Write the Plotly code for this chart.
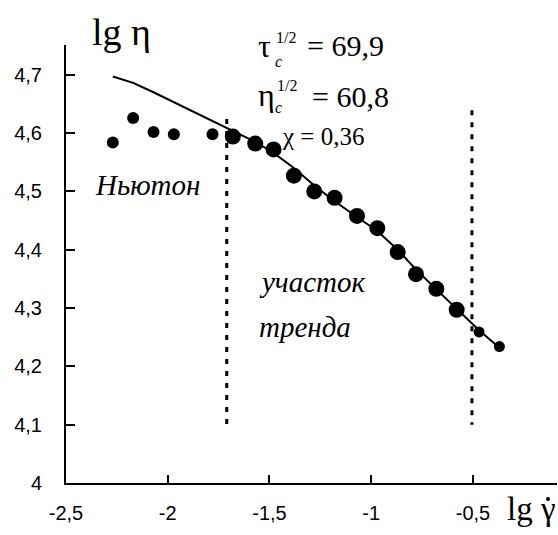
import plotly.graph_objects as go

# ---- data ----
x_newton = [-2.27, -2.17, -2.07, -1.97, -1.78]
y_newton = [4.584, 4.626, 4.602, 4.598, 4.598]

x_trend = [-1.68, -1.57, -1.48, -1.38, -1.28, -1.18, -1.07, -0.97, -0.87, -0.78, -0.68, -0.58]
y_trend = [4.594, 4.582, 4.572, 4.527, 4.500, 4.489, 4.458, 4.437, 4.396, 4.358, 4.333, 4.297]

x_tail = [-0.47, -0.37]
y_tail = [4.259, 4.234]

x_fit = [-2.27, -2.17, -2.07, -1.97, -1.78, -1.68, -1.57, -1.48, -1.38, -1.28,
         -1.18, -1.07, -0.97, -0.87, -0.78, -0.68, -0.58, -0.47, -0.37]
y_fit = [4.697, 4.686, 4.670, 4.653, 4.621, 4.603, 4.585, 4.566, 4.540, 4.510,
         4.483, 4.456, 4.432, 4.400, 4.366, 4.332, 4.298, 4.262, 4.232]

bound_x = [-1.71, -0.505]
bound_y0 = [4.1, 4.1]
bound_y1 = [4.624, 4.639]

x_ticks = [-2.5, -2.0, -1.5, -1.0, -0.5]
x_ticktext = ["-2,5", "-2", "-1,5", "-1", "-0,5"]
y_ticks = [4.0, 4.1, 4.2, 4.3, 4.4, 4.5, 4.6, 4.7]
y_ticktext = ["4", "4,1", "4,2", "4,3", "4,4", "4,5", "4,6", "4,7"]

# ---- layout geometry ----
W, H = 558, 535
ML, MR, MT, MB = 66, 1, 45, 52
XR = [-2.5, -0.087]
YR = [4.0, 4.751]


def px2paper_x(px):
    return (px - ML) / (W - ML - MR)


def px2paper_y(py):
    return (H - MB - py) / (H - MT - MB)


SERIF = "Liberation Serif"
SANS = "Liberation Sans"

fig = go.Figure()

for bx, b0, b1 in zip(bound_x, bound_y0, bound_y1):
    fig.add_trace(go.Scatter(x=[bx, bx], y=[b1, b0], mode="lines",
                             line=dict(color="black", width=3, dash="5px,7px"),
                             hoverinfo="skip", showlegend=False))

fig.add_trace(go.Scatter(x=x_fit, y=y_fit, mode="lines",
                         line=dict(color="black", width=2), showlegend=False))
fig.add_trace(go.Scatter(x=x_newton, y=y_newton, mode="markers",
                         marker=dict(color="black", size=12), showlegend=False))
fig.add_trace(go.Scatter(x=x_trend, y=y_trend, mode="markers",
                         marker=dict(color="black", size=16), showlegend=False))
fig.add_trace(go.Scatter(x=x_tail, y=y_tail, mode="markers",
                         marker=dict(color="black", size=11), showlegend=False))


def ann(text, px, py, size, italic=False, anchor="left"):
    if italic:
        text = "<i>" + text + "</i>"
    fig.add_annotation(x=px2paper_x(px), y=px2paper_y(py), xref="paper", yref="paper",
                       text=text, showarrow=False, xanchor=anchor, yanchor="middle",
                       borderpad=0,
                       font=dict(family=SERIF, size=size, color="black"))


ann("lg η", 91, 32, 38)
ann("Ньютон", 94, 185, 29, italic=True)
ann("участок", 258, 282, 29, italic=True)
ann("тренда", 258, 327, 29, italic=True)

ann("τ", 257, 46, 32)
ann("1/2", 275, 37, 16)
ann("c", 274, 61, 16, italic=True)
ann("= 69,9", 306, 46, 30)

ann("η", 257, 95, 32)
ann("1/2", 276, 86, 16)
ann("c", 274, 107, 16, italic=True)
ann("= 60,8", 311, 96, 30)

ann("χ = 0,36", 281, 136, 25)

ann("lg γ", 557, 509, 33, anchor="right")
# dot over gamma (time derivative mark)
fig.add_shape(type="circle", xref="paper", yref="paper",
              x0=px2paper_x(546), x1=px2paper_x(550),
              y0=px2paper_y(501), y1=px2paper_y(497),
              fillcolor="black", line=dict(width=0))

fig.update_layout(
    width=W, height=H,
    margin=dict(l=ML, r=MR, t=MT, b=MB, pad=0),
    plot_bgcolor="white", paper_bgcolor="white",
    showlegend=False,
    xaxis=dict(range=XR, tickvals=x_ticks, ticktext=x_ticktext,
               showgrid=False, zeroline=False, showline=True,
               linecolor="black", linewidth=2, ticks="inside", ticklen=8,
               tickwidth=2, tickcolor="black", ticklabelstandoff=11,
               tickfont=dict(family=SANS, size=20, color="black")),
    yaxis=dict(range=YR, tickvals=y_ticks, ticktext=y_ticktext,
               showgrid=False, zeroline=False, showline=True,
               linecolor="black", linewidth=2, ticks="inside", ticklen=9,
               tickwidth=2, tickcolor="black", ticklabelstandoff=18,
               tickfont=dict(family=SANS, size=20, color="black")),
)

fig.write_html("out.html", config={"displayModeBar": False},
               post_script="document.body.style.margin='0';")
